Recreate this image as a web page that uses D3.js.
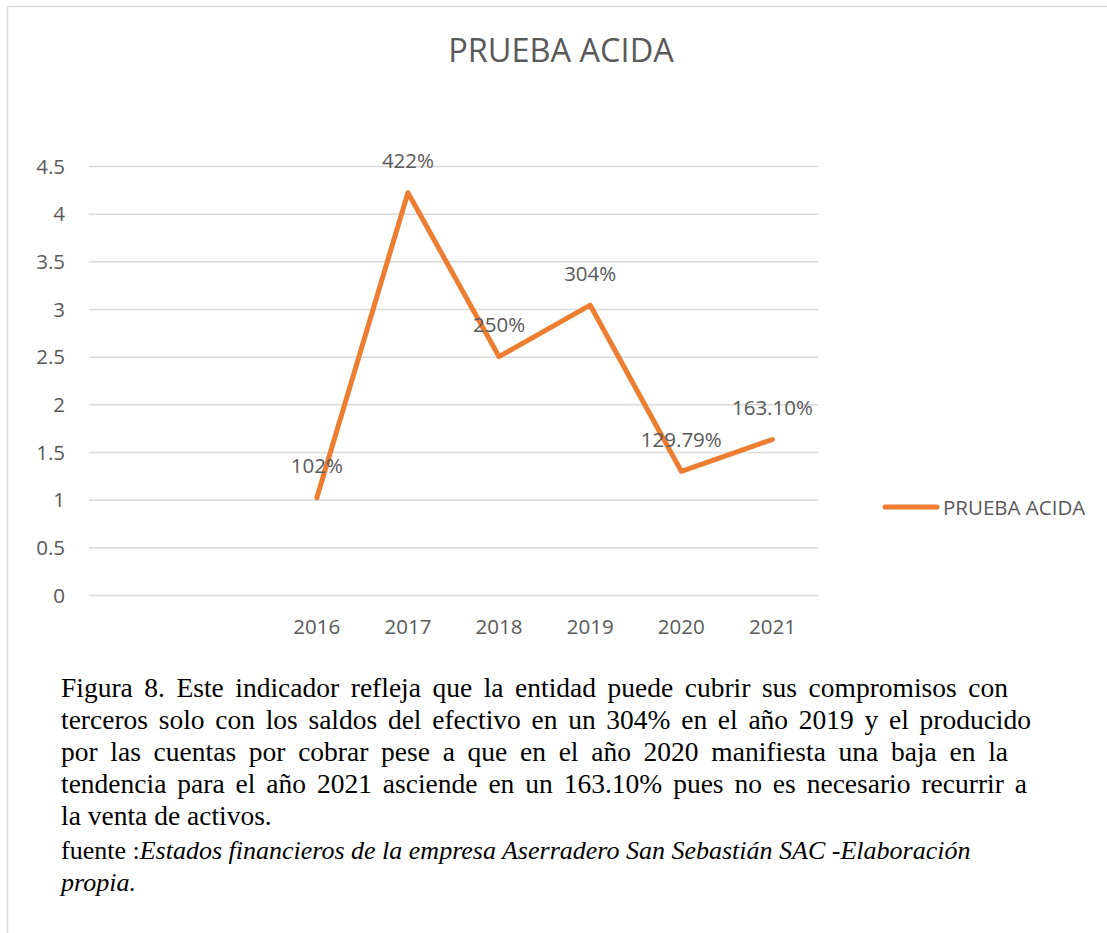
<!DOCTYPE html>
<html><head><meta charset="utf-8">
<script src="https://cdn.jsdelivr.net/npm/d3@7"></script>
<style>body{margin:0;background:#fff}svg{display:block}</style>
</head><body>
<script>
const categories = ["", "", "2016", "2017", "2018", "2019", "2020", "2021"];
const values = [null, null, 1.02, 4.22, 2.50, 3.04, 1.2979, 1.631];
const dataLabels = ["", "", "102%", "422%", "250%", "304%", "129.79%", "163.10%"];
const yTicks = [0, 0.5, 1, 1.5, 2, 2.5, 3, 3.5, 4, 4.5];
const seriesName = "PRUEBA ACIDA";
const title = "PRUEBA ACIDA";
const captionLines = [
  "Figura 8. Este indicador refleja que la entidad puede cubrir sus compromisos con",
  "terceros solo con los saldos del efectivo en un 304% en el año 2019 y el producido",
  "por las cuentas por cobrar pese a que en el año 2020 manifiesta una baja en la",
  "tendencia para el año 2021 asciende en un 163.10% pues no es necesario recurrir a",
  "la venta de activos."
];
const sourceLabel = "fuente :";
const sourceLines = ["Estados financieros de la empresa Aserradero San Sebastián SAC -Elaboración", "propia."];

const W = 1107, H = 933;
const svg = d3.select("body").append("svg").attr("width", W).attr("height", H);
const font = "'Open Sans', 'Noto Sans', sans-serif";
const grey = "#595959";
const fs = 20.5;

// frame
svg.append("line").attr("x1", 7.5).attr("x2", W).attr("y1", 6.5).attr("y2", 6.5).attr("stroke", "#d9d9d9").attr("stroke-width", 1.5);
svg.append("line").attr("x1", 7.5).attr("x2", 7.5).attr("y1", 6.5).attr("y2", H).attr("stroke", "#d9d9d9").attr("stroke-width", 1.5);

const x = d3.scaleBand().domain(d3.range(categories.length)).range([89, 818]);
const y = d3.scaleLinear().domain([0, 4.5]).range([595, 166]);
const cx = i => x(i) + x.bandwidth() / 2;

// gridlines
svg.append("g").selectAll("line").data(yTicks).join("line")
  .attr("x1", 89).attr("x2", 818)
  .attr("y1", d => y(d) + 0.5).attr("y2", d => y(d) + 0.5)
  .attr("stroke", "#d9d9d9").attr("stroke-width", 1.5);

// y axis labels
svg.append("g").selectAll("text").data(yTicks).join("text")
  .attr("x", 65).attr("y", d => y(d) + 7.5)
  .attr("text-anchor", "end").attr("font-family", font).attr("font-size", fs).attr("fill", grey)
  .text(d => d3.format("")(d));

// x axis labels
svg.append("g").selectAll("text").data(categories.map((c, i) => ({c, i}))).join("text")
  .attr("x", d => cx(d.i)).attr("y", 634)
  .attr("text-anchor", "middle").attr("font-family", font).attr("font-size", fs).attr("fill", grey)
  .text(d => d.c);

// title
svg.append("text").attr("x", 561).attr("y", 62).attr("text-anchor", "middle")
  .attr("font-family", font).attr("font-size", 32.5).attr("fill", grey).text(title);

// line
const pts = values.map((v, i) => ({v, i})).filter(d => d.v !== null);
const line = d3.line().x(d => cx(d.i)).y(d => y(d.v));
svg.append("path").datum(pts).attr("d", line).attr("fill", "none")
  .attr("stroke", "#ED7D31").attr("stroke-width", 5).attr("stroke-linejoin", "round").attr("stroke-linecap", "round");

// data labels
svg.append("g").selectAll("text").data(pts).join("text")
  .attr("x", d => cx(d.i)).attr("y", d => y(d.v) - 24.5)
  .attr("text-anchor", "middle").attr("font-family", font).attr("font-size", fs).attr("fill", grey)
  .text(d => dataLabels[d.i]);

// legend
svg.append("line").attr("x1", 885).attr("x2", 937).attr("y1", 507).attr("y2", 507)
  .attr("stroke", "#ED7D31").attr("stroke-width", 5).attr("stroke-linecap", "round");
svg.append("text").attr("x", 943).attr("y", 514.5)
  .attr("font-family", font).attr("font-size", fs).attr("fill", grey).text(seriesName);

// caption (justified via word spacing)
const serif = "'Liberation Serif', 'Times New Roman', serif";
const lineRight = [1008, 1031, 1008, 1027, null];
const cap = svg.append("g").attr("font-family", serif).attr("font-size", 27.5).attr("fill", "#000");
captionLines.forEach((t, i) => {
  const el = cap.append("text").attr("x", 61).attr("y", 697 + i * 32).attr("xml:space", "preserve").text(t);
  if (lineRight[i]) {
    const natural = el.node().getComputedTextLength();
    const spaces = (t.match(/ /g) || []).length;
    const ws = (lineRight[i] - 61 - natural) / spaces;
    el.attr("word-spacing", ws);
  }
});
const src = svg.append("text").attr("x", 61).attr("y", 859).attr("font-family", serif).attr("font-size", 26).attr("fill", "#000");
src.append("tspan").text(sourceLabel);
src.append("tspan").attr("font-style", "italic").text(sourceLines[0]);
svg.append("text").attr("x", 61).attr("y", 891).attr("font-family", serif).attr("font-size", 26).attr("font-style", "italic").attr("fill", "#000").text(sourceLines[1]);
</script>
</body></html>
